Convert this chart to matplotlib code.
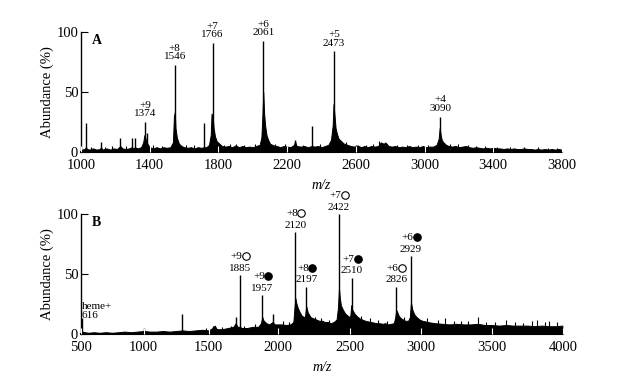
import numpy as np
import matplotlib
matplotlib.use("Agg")
import matplotlib.pyplot as plt
from matplotlib.transforms import offset_copy

plt.rcParams['font.family'] = ['Liberation Serif', 'DejaVu Sans']

# ---------------- Panel A data ----------------
A_env_mz = [1000, 1005, 1020, 1029, 1035, 1050, 1070, 1090, 1110, 1116, 1125, 1150, 1170, 1190,
            1210, 1229, 1240, 1260, 1280, 1295, 1305, 1314, 1330, 1350, 1362, 1369, 1374, 1380,
            1390, 1400, 1420, 1440, 1460, 1480, 1500, 1520, 1535, 1541, 1546, 1550, 1558, 1570,
            1585, 1600, 1620, 1640, 1660, 1680, 1700, 1718, 1730, 1745, 1755, 1760, 1766, 1772,
            1780, 1790, 1805, 1820, 1840, 1860, 1880, 1900, 1920, 1940, 1960, 1980, 2000, 2020,
            2040, 2050, 2056, 2061, 2066, 2072, 2080, 2090, 2100, 2120, 2140, 2160, 2180, 2200,
            2220, 2240, 2246, 2255, 2280, 2300, 2320, 2343, 2360, 2380, 2400, 2420, 2440, 2455,
            2465, 2470, 2476, 2482, 2490, 2500, 2515, 2530, 2550, 2570, 2590, 2610, 2630, 2650,
            2670, 2690, 2710, 2730, 2745, 2760, 2775, 2790, 2810, 2830, 2850, 2870, 2890, 2910,
            2930, 2950, 2970, 2990, 3010, 3030, 3050, 3070, 3082, 3088, 3094, 3100, 3110, 3125,
            3140, 3160, 3180, 3200, 3220, 3240, 3260, 3280, 3300, 3320, 3340, 3360, 3380, 3400,
            3420, 3440, 3460, 3480, 3500, 3520, 3540, 3560, 3580, 3600, 3620, 3640, 3660, 3680,
            3700, 3720, 3740, 3760, 3780, 3798, 3800]
A_env_h = [0.5, 2, 2.5, 4, 2.5, 2, 3, 2, 2.5, 4, 2, 3, 2, 3,
           2.5, 5, 3, 2.5, 3, 4, 3, 4, 3, 4, 8, 14, 12, 9,
           6, 4, 3, 4, 3, 4, 3.5, 4, 8, 30, 33, 20, 12, 7,
           5, 4, 3.5, 4, 3, 4, 3.5, 4, 4, 6, 14, 32, 30, 20,
           13, 9, 7, 5, 4.5, 5, 4, 5.5, 4, 5, 4, 4.5, 4, 5,
           6, 12, 30, 50, 32, 22, 14, 10, 7, 5.5, 5, 4, 5, 4.5,
           4, 6, 9, 5, 4.5, 5, 4, 5, 4.5, 5, 4, 5, 6, 10,
           22, 40, 30, 20, 15, 11, 9, 7, 6, 5, 4.5, 5.5, 4, 5,
           4, 5, 4.5, 5, 8, 7, 7.5, 5, 4.5, 5, 4, 4.5, 4, 5,
           4, 4.5, 4, 5, 4, 4.5, 4.5, 6, 11, 20, 14, 10, 8, 6,
           5, 4.5, 5, 4, 4.5, 5, 4, 3.5, 4, 3.5, 3, 3.5, 3, 3.5,
           3, 3, 2.5, 3, 2.5, 3, 2.5, 2.5, 3, 2.5, 2.5, 2, 2.5, 2,
           2.5, 2, 2.5, 2, 2.5, 2, 0]

A_peak_mz = [1029, 1116, 1229, 1295, 1314, 1372, 1382, 1546, 1718, 1766, 2061, 2246, 2343, 2473, 3090]
A_peak_h = [24.5, 8.5, 12, 11.5, 11.5, 25, 16, 72.5, 24.5, 91, 92.5, 10, 21.5, 84, 29.5]

A_noise_mz = [1060, 1140, 1180, 1260, 1420, 1470, 1610, 1660, 1830, 1870, 1905, 1950, 2010,
              2130, 2190, 2290, 2390, 2545, 2600, 2660, 2700, 2735, 2770, 2840, 2900, 2960,
              3020, 3150, 3195, 3250, 3300, 3350, 3420, 3500, 3580, 3660, 3720, 3770]
A_noise_h = [4, 4.5, 5, 5, 5.5, 5, 6, 5.5, 6, 6.5, 7, 6, 6.5,
             7, 6.5, 6, 6.5, 8, 6, 6, 7, 9, 8.5, 6, 6, 5.5,
             6, 7, 6.5, 5.5, 5, 5, 4.5, 4.5, 4, 4, 3.5, 3.5]

A_labels = ["+9\n1374", "+8\n1546", "+7\n1766", "+6\n2061", "+5\n2473", "+4\n3090"]
A_label_mz = [1374, 1546, 1766, 2061, 2473, 3090]
A_label_h = [25, 72.5, 91, 92.5, 84, 29.5]

# ---------------- Panel B data ----------------
B_env_mz = [500, 505, 510, 530, 560, 600, 650, 700, 750, 800, 850, 900, 950, 1000, 1050, 1100,
            1150, 1200, 1250, 1300, 1350, 1400, 1450, 1500, 1530, 1545, 1560, 1600, 1640, 1680,
            1697, 1710, 1728, 1740, 1780, 1820, 1860, 1880, 1890, 1900, 1920, 1940, 1965, 1980,
            2000, 2030, 2060, 2090, 2110, 2118, 2124, 2130, 2140, 2155, 2170, 2190, 2200, 2210,
            2230, 2250, 2270, 2290, 2310, 2330, 2350, 2370, 2390, 2410, 2420, 2427, 2433, 2440,
            2455, 2470, 2490, 2505, 2512, 2520, 2535, 2550, 2570, 2590, 2610, 2630, 2650, 2670,
            2690, 2710, 2730, 2750, 2770, 2790, 2810, 2820, 2827, 2835, 2845, 2860, 2875, 2890,
            2910, 2922, 2930, 2940, 2955, 2970, 2990, 3010, 3030, 3050, 3070, 3100, 3150, 3200,
            3250, 3300, 3350, 3400, 3450, 3500, 3550, 3600, 3650, 3700, 3750, 3800, 3850, 3900,
            3950, 3995, 4000]
B_env_h = [0, 1.5, 2, 1.5, 1, 1.5, 1, 1.5, 1, 1.5, 2, 1.5, 2, 2.5, 2, 2,
           2.5, 2, 2.5, 3, 2.5, 3, 3.5, 3, 5, 7, 4, 4, 5, 6,
           9, 6, 6, 5, 5, 6, 6, 9, 14, 11, 9, 8, 10, 8,
           8, 8, 7.5, 8, 10, 22, 30, 26, 22, 18, 15, 14, 23, 18,
           14, 13, 12, 11, 11, 10, 10, 9, 10, 12, 22, 38, 30, 24,
           20, 17, 15, 14, 24, 20, 17, 15, 13, 12, 11, 10.5, 10, 9.5,
           9, 9, 8.5, 9, 8, 8.5, 9, 14, 20, 18, 15, 13, 12, 11,
           11, 14, 26, 20, 16, 14, 12, 11, 10.5, 10, 9.5, 9, 8.5, 8,
           8.5, 8, 8, 8.5, 7.5, 7.5, 7, 7.5, 7, 7, 7, 6.5, 7, 6.5,
           6.5, 7, 0]

B_peak_mz = [510, 1000, 1298, 1535, 1697, 1728, 1890, 1965, 2124, 2200, 2427, 2515, 2827, 2930]
B_peak_h = [13, 5, 17, 7, 14, 49, 32.5, 17, 85, 39.5, 100, 47, 39.5, 65]

B_noise_mz = [1480, 1600, 1660, 1760, 1840, 2040, 2080, 2260, 2300, 2360, 2460, 2580, 2640,
              2700, 2760, 2880, 3040, 3120, 3170, 3230, 3280, 3330, 3400, 3460, 3520, 3600,
              3660, 3720, 3780, 3820, 3870, 3900, 3960]
B_noise_h = [5, 6, 7, 7, 8, 11, 10, 14, 13, 12, 18, 15, 13,
             12, 11, 14, 13, 12, 13, 11, 10.5, 11, 14, 10, 10, 12,
             10, 9.5, 11, 12, 10, 11, 10]

B_charge = ["+9", "+9", "+8", "+8", "+7", "+7", "+6", "+6"]
B_filled = [False, True, False, True, False, True, False, True]
B_label_num = ["1885", "1957", "2120", "2197", "2422", "2510", "2826", "2929"]
B_label_mz = [1728, 1890, 2124, 2200, 2427, 2515, 2827, 2930]
B_label_h = [49, 32.5, 85, 39.5, 100, 47, 39.5, 65]

A_ticks = [1000, 1400, 1800, 2200, 2600, 3000, 3400, 3800]
B_ticks = [500, 1000, 1500, 2000, 2500, 3000, 3500, 4000]
# calibration of the printed (non-uniform) axis of panel B
B_tick_pos = [0.0, 62.5, 127.5, 196.5, 268.5, 340.0, 411.0, 482.0]

fig = plt.figure(figsize=(6.25, 3.79), dpi=100)
axA = fig.add_axes([81 / 625, 1 - 152 / 379, 481 / 625, 120 / 379])
axB = fig.add_axes([81 / 625, 1 - 334 / 379, 482 / 625, 120 / 379])

axB.set_xscale('function', functions=(lambda x: np.interp(x, B_ticks, B_tick_pos),
                                      lambda p: np.interp(p, B_tick_pos, B_ticks)))

def draw(ax, env_mz, env_h, pk_mz, pk_h, nz_mz, nz_h, xlim, ticks):
    ax.fill_between(env_mz, 0, env_h, color='black', lw=0.7, zorder=2)
    ax.vlines(nz_mz, 0, nz_h, color='black', lw=0.8, zorder=2)
    ax.vlines(pk_mz, 0, pk_h, color='black', lw=1.0, zorder=2)
    ax.set_xlim(*xlim)
    ax.set_ylim(0, 100)
    ax.set_xticks(ticks)
    ax.set_xticklabels([str(t) for t in ticks])
    ax.set_yticks([0, 50, 100])
    ax.spines['top'].set_visible(False)
    ax.spines['right'].set_visible(False)
    ax.spines['left'].set_linewidth(1.0)
    ax.spines['bottom'].set_linewidth(1.5)
    ax.set_axisbelow(False)
    ax.tick_params(axis='x', direction='in', length=4, width=0.8, color='white',
                   labelsize=10.5, pad=5)
    ax.tick_params(axis='y', direction='in', length=5, width=0.8, color='black',
                   labelsize=10.5, pad=2)
    ax.set_ylabel('Abundance (%)', fontsize=10.5, labelpad=2)
    ax.set_xlabel('m/z', fontsize=10, style='italic', labelpad=5)

draw(axA, A_env_mz, A_env_h, A_peak_mz, A_peak_h, A_noise_mz, A_noise_h, (1000, 3800), A_ticks)
draw(axB, B_env_mz, B_env_h, B_peak_mz, B_peak_h, B_noise_mz, B_noise_h, (500, 4000), B_ticks)

for lab, x, h in zip(A_labels, A_label_mz, A_label_h):
    axA.text(x, h + 3, lab, ha='center', va='bottom', fontsize=8, linespacing=0.95,
             clip_on=False)

for ch, filled, num, x, h in zip(B_charge, B_filled, B_label_num, B_label_mz, B_label_h):
    y = h + 2
    axB.text(x, y, num, ha='center', va='bottom', fontsize=8, clip_on=False)
    tr_txt = offset_copy(axB.transData, fig=fig, x=2.5, y=16, units='dots')
    axB.text(x, y, ch, ha='right', va='center', fontsize=8, transform=tr_txt, clip_on=False)
    tr_mk = offset_copy(axB.transData, fig=fig, x=6.0, y=16.5, units='dots')
    axB.plot([x], [y], marker='o', ms=5.4, mew=0.8, mec='black',
             mfc='black' if filled else 'white', transform=tr_mk, clip_on=False)

axB.text(508, 12, "heme+\n616", ha='left', va='bottom', fontsize=8, linespacing=0.95)

axA.text(0.022, 0.93, 'A', transform=axA.transAxes, fontsize=10, fontweight='bold',
         ha='left', va='center')
axB.text(0.022, 0.93, 'B', transform=axB.transAxes, fontsize=10, fontweight='bold',
         ha='left', va='center')

fig.savefig('out.png', dpi=100)
